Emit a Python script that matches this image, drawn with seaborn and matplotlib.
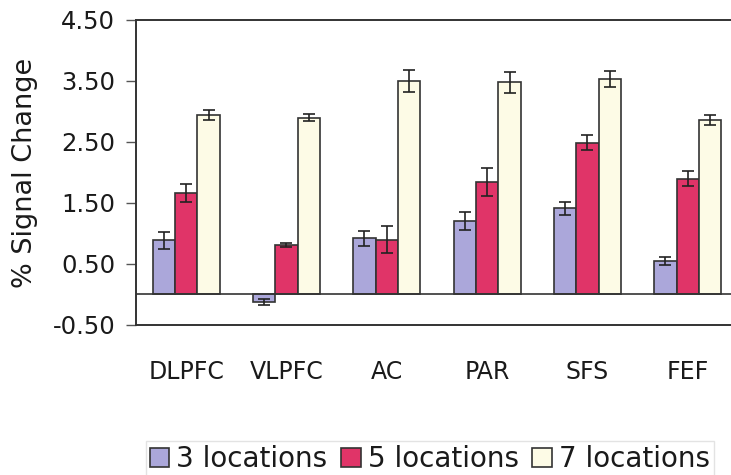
import pandas as pd
import matplotlib
matplotlib.use("Agg")
import matplotlib.pyplot as plt
import seaborn as sns

# values
regions = ["DLPFC", "VLPFC", "AC", "PAR", "SFS", "FEF"]
conditions = ["3 locations", "5 locations", "7 locations"]
loc3 = [0.89, -0.12, 0.92, 1.20, 1.41, 0.55]
loc5 = [1.66, 0.81, 0.90, 1.84, 2.49, 1.90]
loc7 = [2.94, 2.90, 3.50, 3.48, 3.53, 2.86]
err3 = [0.14, 0.05, 0.12, 0.15, 0.10, 0.07]
err5 = [0.15, 0.04, 0.22, 0.23, 0.13, 0.13]
err7 = [0.08, 0.06, 0.18, 0.17, 0.13, 0.08]
colors = ["#aba7da", "#e03468", "#fdfbe6"]

df = pd.DataFrame({
    "region": regions * 3,
    "condition": [c for c in conditions for _ in regions],
    "signal": loc3 + loc5 + loc7,
    "err": err3 + err5 + err7,
})

sns.set_style("white")
plt.rcParams["font.family"] = ["DejaVu Sans"]
plt.rcParams["text.color"] = "#1a1a1a"
plt.rcParams["axes.labelcolor"] = "#1a1a1a"
plt.rcParams["xtick.color"] = "#1a1a1a"
plt.rcParams["ytick.color"] = "#1a1a1a"

fig = plt.figure(figsize=(7.31, 4.75), dpi=100)
ax = fig.add_axes([0.186, 0.316, 0.8235, 0.642])

sns.barplot(data=df, x="region", y="signal", hue="condition", palette=colors,
            width=0.67, errorbar=None, edgecolor="#333333", linewidth=1.2,
            saturation=1, ax=ax)

# error bars at the end of each bar
for cont, errs in zip(ax.containers, [err3, err5, err7]):
    for bar, e in zip(cont, errs):
        x = bar.get_x() + bar.get_width() / 2
        y = bar.get_y() + bar.get_height()
        ax.errorbar(x, y, yerr=e, color="#222222", capsize=4.5, elinewidth=1.2,
                    capthick=1.2, fmt="none")

ax.axhline(0, color="#333333", lw=1.2)
ax.set_ylim(-0.5, 4.5)
ax.set_xlim(-0.5, 5.5)
ticks = [-0.5, 0.5, 1.5, 2.5, 3.5, 4.5]
ax.set_yticks(ticks)
ax.set_yticklabels([f"{v:.2f}" for v in ticks])
ax.tick_params(axis="y", left=True, length=7, width=1, color="#555555",
               labelsize=17.5, pad=8)
ax.tick_params(axis="x", bottom=False, labelsize=17, pad=22)
ax.set_xlabel("")
ax.set_ylabel("% Signal Change", fontsize=19.5, labelpad=10)
for s in ["left", "top", "bottom"]:
    ax.spines[s].set_color("#333333")
    ax.spines[s].set_linewidth(1.4)
ax.spines["right"].set_visible(False)

handles, labels = ax.get_legend_handles_labels()
ax.get_legend().remove()
leg = fig.legend(handles, labels, loc="center", bbox_to_anchor=(0.588, 0.033),
                 ncol=3, fontsize=20, handlelength=0.7, handleheight=0.7,
                 handletextpad=0.25, columnspacing=0.5, borderpad=0.15,
                 frameon=True, fancybox=False)
leg.get_frame().set_edgecolor("#dddddd")

fig.savefig("out.png", dpi=100)
